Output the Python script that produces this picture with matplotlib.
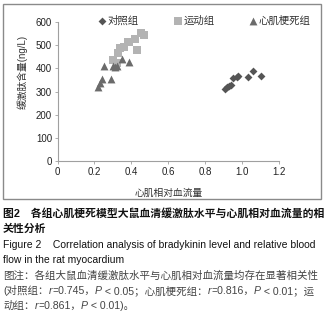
import matplotlib
matplotlib.use("Agg")
import matplotlib.pyplot as plt
from matplotlib.patches import Rectangle

plt.rcParams['font.family'] = ['Liberation Sans', 'Noto Sans CJK SC']

# ---- data ----
control_x = [0.91, 0.92, 0.93, 0.94, 0.95, 0.97, 0.98, 1.03, 1.06, 1.10]
control_y = [312, 318, 325, 328, 357, 362, 365, 362, 387, 366]
exercise_x = [0.30, 0.32, 0.33, 0.34, 0.36, 0.38, 0.39, 0.42, 0.43, 0.45, 0.47]
exercise_y = [435, 422, 468, 488, 490, 512, 515, 528, 480, 553, 545]
infarct_x = [0.22, 0.23, 0.24, 0.25, 0.29, 0.30, 0.31, 0.32, 0.35, 0.39]
infarct_y = [318, 338, 352, 410, 352, 408, 405, 412, 440, 428]
series_names = ['对照组', '运动组', '心肌梗死组']
xticks = [0, 0.2, 0.4, 0.6, 0.8, 1.0, 1.2]
xticklabels = ['0', '0.2', '0.4', '0.6', '0.8', '1.0', '1.2']
yticks = [0, 100, 200, 300, 400, 500, 600]
xlabel = '心肌相对血流量'
ylabel = '缓激肽含量(ng/L)'

W, H = 325, 326
fig = plt.figure(figsize=(W / 100, H / 100), dpi=100)

def fx(px):
    return px / W

def fy(py):
    return 1 - py / H

# outer frame
fig.patches.append(Rectangle((fx(3), fy(199)), fx(318), 195 / H, transform=fig.transFigure,
                             fill=False, edgecolor='#8a8a8a', linewidth=1.0))

ax = fig.add_axes([fx(57.5), fy(161), fx(221.5), (161 - 22) / H])
ax.scatter(control_x, control_y, marker='D', s=16, color='#555555', linewidths=0, label=series_names[0])
ax.scatter(exercise_x, exercise_y, marker='s', s=32, color='#b3b3b3', linewidths=0, label=series_names[1])
ax.scatter(infarct_x, infarct_y, marker='^', s=32, color='#6b6b6b', linewidths=0, label=series_names[2])
ax.set_xlim(0, 1.2)
ax.set_ylim(0, 600)
ax.set_xticks(xticks)
ax.set_xticklabels(xticklabels)
ax.set_yticks(yticks)
for s in ['top', 'right']:
    ax.spines[s].set_visible(False)
for s in ['left', 'bottom']:
    ax.spines[s].set_color('#a0a0a0')
    ax.spines[s].set_linewidth(0.8)
ax.tick_params(axis='both', direction='out', length=2.5, width=0.6, color='#a0a0a0',
               labelsize=7, labelcolor='#222222', pad=1.5)
ax.set_xlabel(xlabel, fontsize=7, color='#333333', labelpad=8)
fig.text(fx(22), fy(72), ylabel, rotation=90, ha='center', va='center', fontsize=7, color='#333333')

leg = ax.legend(loc='center left', bbox_to_anchor=(fx(99), fy(21)), bbox_transform=fig.transFigure,
                ncol=3, frameon=False, fontsize=7.5, handlelength=0.6, handletextpad=0.25,
                columnspacing=3.4, borderpad=0, borderaxespad=0)
for t in leg.get_texts():
    t.set_color('#333333')

# ---- caption ----
def draw_segments(x_px, y_px, segs, size, color):
    fig.canvas.draw()
    r = fig.canvas.get_renderer()
    x = fx(x_px)
    for txt, style in segs:
        kw = dict(fontsize=size, color=color, va='center', ha='left')
        if style == 'i':
            kw['style'] = 'italic'
        t = fig.text(x, fy(y_px), txt, **kw)
        bb = t.get_window_extent(renderer=r)
        x += bb.width / fig.bbox.width

fig.text(fx(3), fy(213), '图2　各组心肌梗死模型大鼠血清缓激肽水平与心肌相对血流量的相',
         fontsize=7.8, weight='bold', va='center', color='#111111')
fig.text(fx(3), fy(229), '关性分析', fontsize=7.8, weight='bold', va='center', color='#111111')
fig.text(fx(3), fy(245), 'Figure 2    Correlation analysis of bradykinin level and relative blood',
         fontsize=7.45, va='center', color='#111111')
fig.text(fx(3), fy(260), 'flow in the rat myocardium', fontsize=7.45, va='center', color='#111111')
fig.text(fx(3), fy(276), '图注：各组大鼠血清缓激肽水平与心肌相对血流量均存在显著相关性',
         fontsize=7.55, va='center', color='#444444')
draw_segments(3, 291, [('(对照组：', 'n'), ('r', 'i'), ('=0.745，', 'n'), ('P', 'i'),
                       (' < 0.05；心肌梗死组：', 'n'), ('r', 'i'), ('=0.816，', 'n'), ('P', 'i'),
                       (' < 0.01；运', 'n')], 7.55, '#444444')
draw_segments(3, 306, [('动组：', 'n'), ('r', 'i'), ('=0.861，', 'n'), ('P', 'i'), (' < 0.01)。', 'n')],
              7.55, '#444444')

fig.savefig('out.png', dpi=100)
